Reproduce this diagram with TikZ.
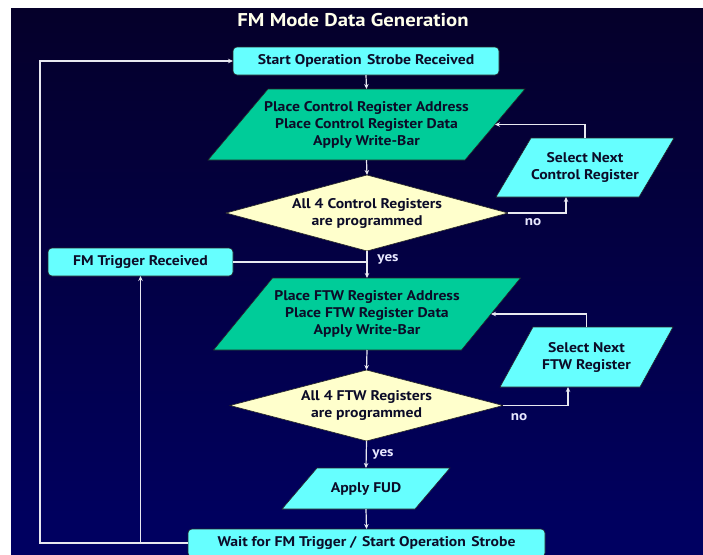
\documentclass[tikz,border=0pt]{standalone}
\usepackage{fontspec}
\setmainfont{PT Sans}[FakeStretch=1.12]
\usetikzlibrary{arrows.meta,shapes.geometric,calc}

\definecolor{bgtop}{RGB}{5,0,42}
\definecolor{bgbot}{RGB}{0,0,98}
\definecolor{boxcyan}{RGB}{102,255,255}
\definecolor{boxgreen}{RGB}{0,204,153}
\definecolor{boxyellow}{RGB}{255,255,204}
\definecolor{wire}{RGB}{232,232,240}
\definecolor{ink}{RGB}{12,12,40}
\definecolor{titleink}{RGB}{255,255,235}
\definecolor{lblink}{RGB}{232,232,255}

\tikzset{
  shapeline/.style={draw=black!85, line width=0.6pt},
  boxtext/.style={inner sep=0pt, outer sep=0pt, align=center, text=ink,
    font=\fontsize{14}{17}\selectfont\bfseries},
  rbox/.style={shapeline, fill=boxcyan, rounded corners=4pt, boxtext},
  dia/.style={shapeline, fill=boxyellow, diamond, aspect=3.7, boxtext},
  wireline/.style={draw=wire, line width=1.2pt},
  arr/.style={wireline, -{Stealth[length=5pt,width=4.5pt]}},
  lbl/.style={text=lblink, inner sep=0pt, font=\fontsize{13.5}{15}\selectfont\bfseries},
  title/.style={text=titleink, inner sep=0pt, font=\fontsize{18.5}{21}\selectfont\bfseries},
}

% slightly widened word gap
\newcommand\wgap{\hspace{1.5pt} }

% slanted (parallelogram) box: name, centre x, centre y, half width, half height, half slant, fill, text
\newcommand\slantbox[8]{%
  \path[shapeline, fill=#7] ({#2-#4+#6},{#3-#5}) -- ({#2+#4+#6},{#3-#5})
     -- ({#2+#4-#6},{#3+#5}) -- ({#2-#4-#6},{#3+#5}) -- cycle;
  \node[boxtext] (#1) at (#2,#3) {#8};
  \coordinate (#1-top) at (#2,{#3-#5});
  \coordinate (#1-bot) at (#2,{#3+#5});
  \coordinate (#1-right) at ({#2+#4},#3);
}

\begin{document}
\begin{tikzpicture}[x=1pt, y=-1pt]
  \useasboundingbox (0,0) rectangle (703,554);
  \fill[white] (0,0) rectangle (703,554);
  \shade[top color=bgtop, bottom color=bgbot] (11,8) rectangle (703,554);

  \node[title] (title) at (353,20) {FM Mode Data Generation};

  % boxes
  \node[rbox, minimum width=266pt, minimum height=28pt] (start) at (366,61)
    {Start Operation\wgap Strobe Received};
  \slantbox{p1}{366.5}{124.5}{128.5}{35.5}{30}{boxgreen}
    {Place Control Register Address\\Place Control Register Data\\Apply Write-Bar}
  \node[dia, minimum width=282pt, minimum height=76pt] (d1) at (367,213)
    {All 4 Control Registers\\are programmed};
  \slantbox{s1}{585}{167.5}{71.5}{29.5}{17.5}{boxcyan}{Select Next\\Control Register}

  \node[rbox, minimum width=185pt, minimum height=28pt] (fmt) at (140.5,262)
    {FM Trigger Received};

  \slantbox{p2}{367}{314}{124}{36}{29.5}{boxgreen}
    {Place FTW Register Address\\Place FTW Register Data\\Apply Write-Bar}
  \node[dia, minimum width=273pt, minimum height=71pt] (d2) at (366.5,405.5)
    {All 4 FTW Registers\\are programmed};
  \slantbox{s2}{586.5}{357}{70}{30}{16.5}{boxcyan}{Select Next\\FTW Register}

  \slantbox{fud}{366}{488.5}{66.5}{20.5}{17.5}{boxcyan}{Apply FUD}

  \node[rbox, minimum width=357pt, minimum height=28pt] (wait) at (366.5,543)
    {Wait for FM Trigger /\wgap Start Operation\wgap Strobe};

  % connectors
  \draw[arr] (start.south) -- (p1-top);
  \draw[arr] (p1-bot) -- (d1.north);
  \draw[arr] (d1.east) -| ($(s1-bot)+(-19,0)$);
  \draw[arr] (s1-top) |- (p1-right);
  \draw[arr] (d1.south) -- (p2-top);
  \draw[wireline] (fmt.east) -- (fmt.east -| d1.south);

  \draw[arr] (p2-bot) -- (d2.north);
  \draw[arr] (d2.east) -| ($(s2-bot)+(-18.5,0)$);
  \draw[arr] (s2-top) |- (p2-right);
  \draw[arr] (d2.south) -- (fud-top);
  \draw[arr] (fud-bot) -- (wait.north);

  \coordinate (loopL) at (40,543);
  \draw[arr] (wait.west) -- (loopL) |- (start.west);
  \draw[arr] (fmt.south |- wait.west) -- (fmt.south);

  % branch labels
  \node[lbl] (no1) at (533,222) {no};
  \node[lbl] (yes1) at (388,259) {yes};
  \node[lbl] (no2) at (519,417) {no};
  \node[lbl] (yes2) at (383,454) {yes};
\end{tikzpicture}
\end{document}
